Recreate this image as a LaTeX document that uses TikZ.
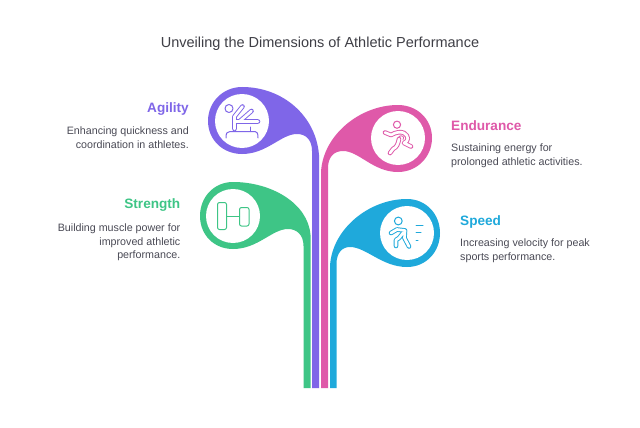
\documentclass[tikz,border=0pt]{standalone}
\usepackage{fontspec}
\setmainfont{Liberation Sans}
\definecolor{cpurple}{HTML}{7F66E8}
\definecolor{cpink}{HTML}{DF59A9}
\definecolor{cgreen}{HTML}{3EC586}
\definecolor{cblue}{HTML}{1FA9DB}
\definecolor{ctitle}{HTML}{3F3F46}
\definecolor{cbody}{HTML}{4A4A55}
\tikzset{
  blob/.style={fill=#1,draw=none},
  icon/.style={draw=#1,line width=1pt,line cap=round,line join=round,fill=none},
  tubeout/.style={draw=#1,line width=4.6pt,line cap=round,line join=round,fill=none},
  tubein/.style={draw=white,line width=2.7pt,line cap=round,line join=round,fill=none},
  heading/.style={font=\fontsize{13.6}{16}\selectfont\bfseries,text=#1,inner sep=0pt},
  lbody/.style={font=\fontsize{10.7}{13.1}\selectfont,text=cbody,inner sep=0pt,align=right,anchor=north east},
  rbody/.style={font=\fontsize{10.7}{13.1}\selectfont,text=cbody,inner sep=0pt,align=left,anchor=north west},
  disc/.style={circle,fill=white,minimum size=54pt,inner sep=0pt},
}
\begin{document}
\begin{tikzpicture}[x=1pt,y=-1pt]
\useasboundingbox (0,0) rectangle (640,428);
\fill[white] (0,0) rectangle (640,428);
\node[font=\fontsize{14.5}{16}\selectfont,text=ctitle,inner sep=0pt] (title) at (320,43.5) {Unveiling the Dimensions of Athletic Performance};
% stems and blobs
\fill[blob=cgreen] (310.5,388) -- (310.5,235) .. controls (308,203) and (271,182) .. (233,182)
  .. controls (214,182) and (200,197) .. (200,216) .. controls (200,235) and (214,249) .. (233,249)
  .. controls (258,249) and (272,229) .. (288,229) .. controls (297,229) and (303.5,235) .. (303.5,246) -- (303.5,388) -- cycle;
\fill[blob=cpurple] (319,388) -- (319,155) .. controls (316,116) and (283,87) .. (242,87)
  .. controls (223,87) and (208,102) .. (208,121) .. controls (208,140) and (223,154) .. (242,154)
  .. controls (267,154) and (281,134) .. (297,134) .. controls (306,134) and (312,140) .. (312,151) -- (312,388) -- cycle;
\fill[blob=cpink] (321,388) -- (321,172) .. controls (323,135) and (360,105) .. (398,105)
  .. controls (417,105) and (432,119) .. (432,138) .. controls (432,157) and (417,172) .. (398,172)
  .. controls (373,172) and (359,151) .. (343,151) .. controls (334,151) and (328,157) .. (328,168) -- (328,388) -- cycle;
\fill[blob=cblue] (330,388) -- (330,266) .. controls (332,229) and (369,199) .. (407,199)
  .. controls (426,199) and (440,214) .. (440,233) .. controls (440,252) and (426,267) .. (407,267)
  .. controls (382,267) and (366,247) .. (350,247) .. controls (342,247) and (336.5,253) .. (336.5,264) -- (336.5,388) -- cycle;
% icon discs
\node[disc] (dAgility) at (242,121) {};
\node[disc] (dEndurance) at (398,138) {};
\node[disc] (dStrength) at (233,216) {};
\node[disc] (dSpeed) at (407,233) {};
% agility icon
\draw[icon=cpurple] (229,108.5) circle (4);
\draw[icon=cpurple] (226,138) .. controls (226,133) and (227,131.5) .. (230,131.5) -- (255,131.5) .. controls (257,131.5) and (258,133) .. (258,138);
\draw[icon=cpurple] (250,131.5) -- (250,127);
\draw[tubeout=cpurple] (234.5,129) -- (234.5,116.5) -- (242.5,106.5) (234.5,121.5) -- (258,121.5) (240,121) -- (251.5,111);
\draw[tubein] (234.5,129) -- (234.5,116.5) -- (242.5,106.5) (234.5,121.5) -- (258,121.5) (240,121) -- (251.5,111);
% endurance icon
\draw[icon=cpink] (397,124.7) circle (3.6);
\draw[tubeout=cpink] (385,132.5) -- (391,135) .. controls (396,132) and (401,131.5) .. (404,133) .. controls (409,136) and (409,141) .. (404,143) -- (411,146.5) (399,139) .. controls (398,144) and (397,147) .. (393,149) -- (390,153);
\draw[tubein] (385,132.5) -- (391,135) .. controls (396,132) and (401,131.5) .. (404,133) .. controls (409,136) and (409,141) .. (404,143) -- (411,146.5) (399,139) .. controls (398,144) and (397,147) .. (393,149) -- (390,153);
\draw[icon=cpink,line width=.8pt] (399,136.5) .. controls (402,134.5) and (405,137) .. (403,139.5);
% strength icon
\draw[icon=cgreen,rounded corners=2pt] (217.5,202.5) rectangle (226.5,229.5);
\draw[icon=cgreen,rounded corners=2pt] (239.5,207.5) rectangle (249,226);
\draw[icon=cgreen] (226.5,216) -- (239.5,216);
% speed icon
\draw[icon=cblue] (398.3,221) circle (3.9);
\draw[tubeout=cblue] (391,233) -- (397,229.5) -- (405,230.5) -- (404.5,238) -- (409,246.5) (403,233) -- (399,238) -- (396,240) -- (396,246);
\draw[tubein] (391,233) -- (397,229.5) -- (405,230.5) -- (404.5,238) -- (409,246.5) (403,233) -- (399,238) -- (396,240) -- (396,246);
\draw[icon=cblue] (416,225.5) -- (423,225.5) (416,232.5) -- (421,232.5) (416,240.5) -- (418,240.5);
% texts
\node[heading=cpurple,anchor=base east] (hAgility) at (189,112.7) {Agility};
\node[lbody] (bAgility) at (189,127) {Enhancing quickness and\\coordination in athletes.};
\node[heading=cgreen,anchor=base east] (hStrength) at (180.5,208.3) {Strength};
\node[lbody] (bStrength) at (180.5,224) {Building muscle power for\\improved athletic\\performance.};
\node[heading=cpink,anchor=base west] (hEndurance) at (451,130.5) {Endurance};
\node[rbody] (bEndurance) at (451,144) {Sustaining energy for\\prolonged athletic activities.};
\node[heading=cblue,anchor=base west] (hSpeed) at (460,225.5) {Speed};
\node[rbody] (bSpeed) at (460,239) {Increasing velocity for peak\\sports performance.};
\end{tikzpicture}
\end{document}
